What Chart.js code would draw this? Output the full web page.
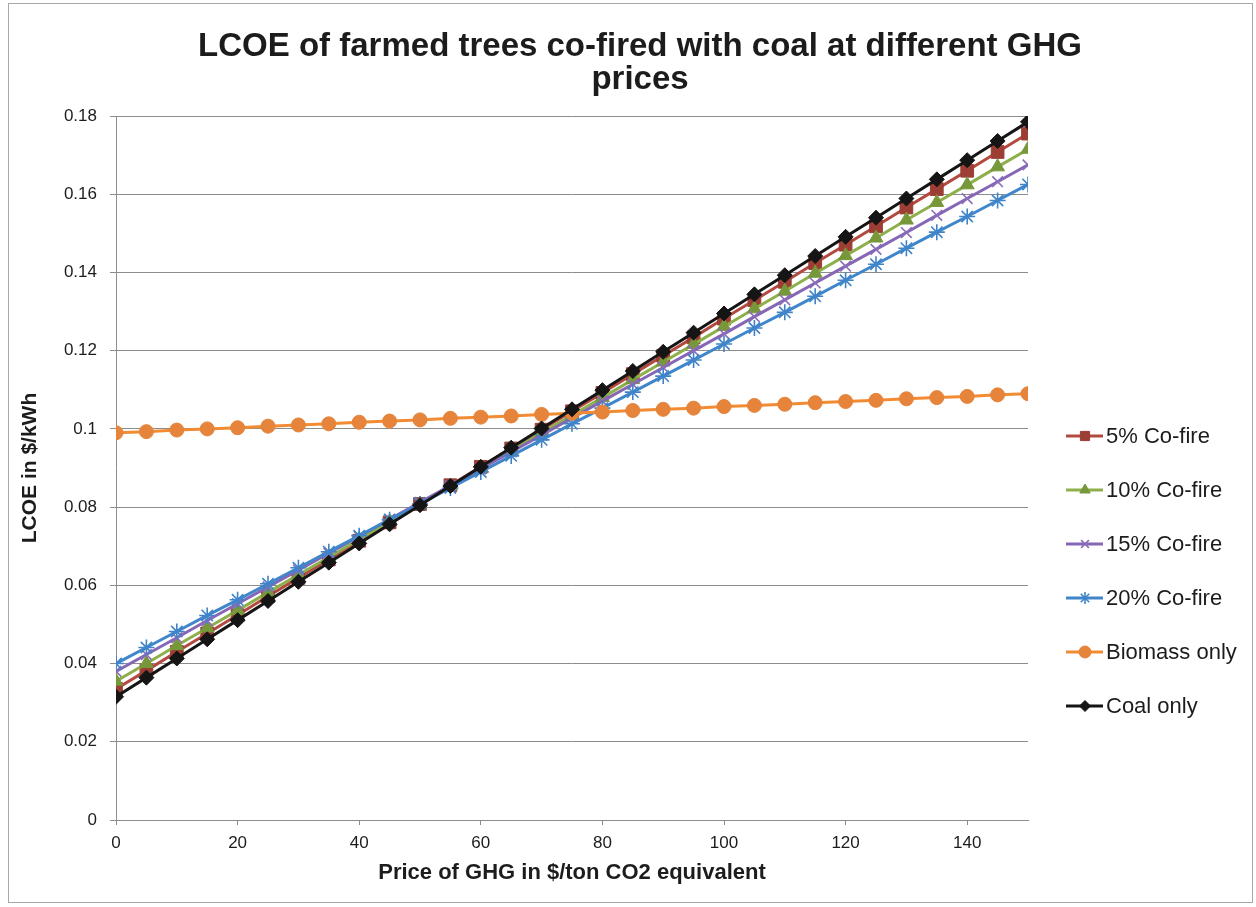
<!DOCTYPE html>
<html>
<head>
<meta charset="utf-8">
<script src="https://cdn.jsdelivr.net/npm/chart.js@4.4.1/dist/chart.umd.min.js"></script>
<style>
  html, body { margin: 0; padding: 0; background: #fff; }
  canvas { display: block; }
</style>
</head>
<body>
<canvas id="c" width="1256" height="907"></canvas>
<script>
// GHG price, $/ton CO2 equivalent
const prices = [0, 5, 10, 15, 20, 25, 30, 35, 40, 45, 50, 55, 60, 65, 70, 75,
  80, 85, 90, 95, 100, 105, 110, 115, 120, 125, 130, 135, 140, 145, 150];

// LCOE, $/kWh
const cofire5 = [0.0335, 0.0382, 0.0430, 0.0477, 0.0524, 0.0572, 0.0619, 0.0666, 0.0714, 0.0761,
  0.0808, 0.0856, 0.0903, 0.0950, 0.0998, 0.1045, 0.1092, 0.1140, 0.1187, 0.1234,
  0.1282, 0.1329, 0.1376, 0.1424, 0.1471, 0.1518, 0.1566, 0.1613, 0.1660, 0.1708, 0.1755];
const cofire10 = [0.0355, 0.0400, 0.0446, 0.0491, 0.0536, 0.0582, 0.0627, 0.0672, 0.0718, 0.0763,
  0.0808, 0.0854, 0.0899, 0.0944, 0.0990, 0.1035, 0.1080, 0.1126, 0.1171, 0.1216,
  0.1262, 0.1307, 0.1352, 0.1398, 0.1443, 0.1488, 0.1534, 0.1579, 0.1624, 0.1670, 0.1715];
const cofire15 = [0.0380, 0.0423, 0.0466, 0.0510, 0.0553, 0.0596, 0.0639, 0.0682, 0.0725, 0.0769,
  0.0812, 0.0855, 0.0898, 0.0941, 0.0984, 0.1028, 0.1071, 0.1114, 0.1157, 0.1200,
  0.1243, 0.1287, 0.1330, 0.1373, 0.1416, 0.1459, 0.1502, 0.1546, 0.1589, 0.1632, 0.1675];
const cofire20 = [0.0400, 0.0441, 0.0482, 0.0523, 0.0563, 0.0604, 0.0645, 0.0686, 0.0727, 0.0768,
  0.0808, 0.0849, 0.0890, 0.0931, 0.0972, 0.1013, 0.1053, 0.1094, 0.1135, 0.1176,
  0.1217, 0.1258, 0.1298, 0.1339, 0.1380, 0.1421, 0.1462, 0.1503, 0.1543, 0.1584, 0.1625];
const biomassOnly = [0.0990, 0.0993, 0.0997, 0.1000, 0.1003, 0.1007, 0.1010, 0.1013, 0.1017, 0.1020,
  0.1023, 0.1027, 0.1030, 0.1033, 0.1037, 0.1040, 0.1043, 0.1047, 0.1050, 0.1053,
  0.1057, 0.1060, 0.1063, 0.1067, 0.1070, 0.1073, 0.1077, 0.1080, 0.1083, 0.1087, 0.1090];
const coalOnly = [0.0315, 0.0364, 0.0413, 0.0462, 0.0511, 0.0560, 0.0609, 0.0658, 0.0707, 0.0756,
  0.0805, 0.0854, 0.0903, 0.0952, 0.1001, 0.1050, 0.1099, 0.1148, 0.1197, 0.1246,
  0.1295, 0.1344, 0.1393, 0.1442, 0.1491, 0.1540, 0.1589, 0.1638, 0.1687, 0.1736, 0.1785];

const seriesNames = ['5% Co-fire', '10% Co-fire', '15% Co-fire', '20% Co-fire', 'Biomass only', 'Coal only'];
const xTickValues = [0, 20, 40, 60, 80, 100, 120, 140];
const yTickValues = [0, 0.02, 0.04, 0.06, 0.08, 0.1, 0.12, 0.14, 0.16, 0.18];
const titleLines = ['LCOE of farmed trees co-fired with coal at different GHG', 'prices'];
const yAxisTitle = 'LCOE in $/kWh';
const xAxisTitle = 'Price of GHG in $/ton CO2 equivalent';

const FONT = '"Liberation Sans", Arial, Helvetica, sans-serif';
const TEXT = '#1c1c1c';

// line / marker look for each series, same order as seriesNames
const looks = [
  { line: '#B24A40', fill: '#9C3E34', style: 'rect',     r: 9,   bw: 1,   lr: 6.5 },
  { line: '#8DB04B', fill: '#77983A', style: 'triangle', r: 8,   bw: 1,   lr: 6 },
  { line: '#8667B6', fill: '#8A6CBA', style: 'crossRot', r: 7.5, bw: 1.6, lr: 5.5 },
  { line: '#4086CA', fill: '#3F84C8', style: 'star',     r: 8,   bw: 1.6, lr: 6 },
  { line: '#F38B32', fill: '#E5843A', style: 'circle',   r: 7,   bw: 1,   lr: 6 },
  { line: '#151515', fill: '#151515', style: 'rectRot',  r: 7.5, bw: 1,   lr: 5.5 }
];
const seriesValues = [cofire5, cofire10, cofire15, cofire20, biomassOnly, coalOnly];
const drawOrder = [5, 4, 3, 2, 1, 0]; // coal on top

const datasets = seriesValues.map((vals, i) => ({
  label: seriesNames[i],
  data: prices.map((p, k) => ({ x: p, y: vals[k] })),
  borderColor: looks[i].line,
  backgroundColor: looks[i].fill,
  borderWidth: 3,
  pointStyle: looks[i].style,
  pointRadius: looks[i].r,
  pointBackgroundColor: looks[i].fill,
  pointBorderColor: looks[i].fill,
  pointBorderWidth: looks[i].bw,
  tension: 0,
  order: drawOrder[i]
}));

// outer frame of the chart
const framePlugin = {
  id: 'frame',
  beforeDraw(chart) {
    const ctx = chart.ctx;
    ctx.save();
    ctx.fillStyle = '#fff';
    ctx.fillRect(0, 0, chart.width, chart.height);
    ctx.strokeStyle = '#a8a8a8';
    ctx.lineWidth = 1;
    ctx.strokeRect(8.5, 3.5, 1244, 899);
    ctx.restore();
  }
};

// centred two-line heading
const headingPlugin = {
  id: 'heading',
  afterDraw(chart) {
    const ctx = chart.ctx;
    ctx.save();
    ctx.fillStyle = TEXT;
    ctx.font = 'bold 33px ' + FONT;
    ctx.textAlign = 'center';
    ctx.textBaseline = 'middle';
    titleLines.forEach((t, i) => ctx.fillText(t, 640, 47 + i * 33));
    ctx.restore();
  }
};

// legend at the right: line sample with marker, then the series name
const sideLegendPlugin = {
  id: 'sideLegend',
  afterDraw(chart) {
    const ctx = chart.ctx;
    ctx.save();
    seriesNames.forEach((name, i) => {
      const y = 436 + i * 54;
      const lk = looks[i];
      ctx.strokeStyle = lk.line;
      ctx.lineWidth = 3;
      ctx.beginPath();
      ctx.moveTo(1066, y);
      ctx.lineTo(1103, y);
      ctx.stroke();
      ctx.fillStyle = lk.fill;
      ctx.strokeStyle = lk.fill;
      ctx.lineWidth = lk.bw;
      Chart.helpers.drawPoint(ctx, { pointStyle: lk.style, rotation: 0, radius: lk.lr, borderWidth: lk.bw }, 1085, y);
      ctx.fillStyle = TEXT;
      ctx.font = '22px ' + FONT;
      ctx.textAlign = 'left';
      ctx.textBaseline = 'middle';
      ctx.fillText(name, 1106, y + 1);
    });
    ctx.restore();
  }
};

new Chart(document.getElementById('c'), {
  type: 'line',
  data: { datasets },
  plugins: [framePlugin, headingPlugin, sideLegendPlugin],
  options: {
    responsive: false,
    animation: false,
    events: [],
    layout: { autoPadding: false, padding: { top: 116, right: 228, bottom: 0, left: 0 } },
    plugins: { legend: { display: false }, title: { display: false }, tooltip: { enabled: false } },
    scales: {
      x: {
        type: 'linear',
        min: 0,
        max: 150,
        afterFit(s) { s.height = 87; },
        afterBuildTicks(s) { s.ticks = xTickValues.map(v => ({ value: v })); },
        grid: { drawOnChartArea: false, drawTicks: true, tickLength: 5, color: '#8c8c8c' },
        border: { display: true, color: '#8c8c8c', width: 1 },
        ticks: { color: TEXT, font: { family: FONT, size: 17 }, padding: 8, maxRotation: 0 },
        title: {
          display: true, text: xAxisTitle, color: TEXT,
          font: { family: FONT, size: 22, weight: 'bold' },
          padding: { top: 0, bottom: 21 }
        }
      },
      y: {
        type: 'linear',
        min: 0,
        max: 0.18,
        afterFit(s) { s.width = 116; },
        afterBuildTicks(s) { s.ticks = yTickValues.map(v => ({ value: v })); },
        grid: { drawOnChartArea: true, drawTicks: true, tickLength: 6, color: '#8c8c8c' },
        border: { display: true, color: '#8c8c8c', width: 1 },
        ticks: {
          color: TEXT, font: { family: FONT, size: 17 }, padding: 13,
          callback: v => String(+v.toFixed(2))
        },
        title: {
          display: true, text: yAxisTitle, color: TEXT,
          font: { family: FONT, size: 21, weight: 'bold' },
          padding: { top: 18, bottom: 0 }
        }
      }
    }
  }
});
</script>
</body>
</html>
